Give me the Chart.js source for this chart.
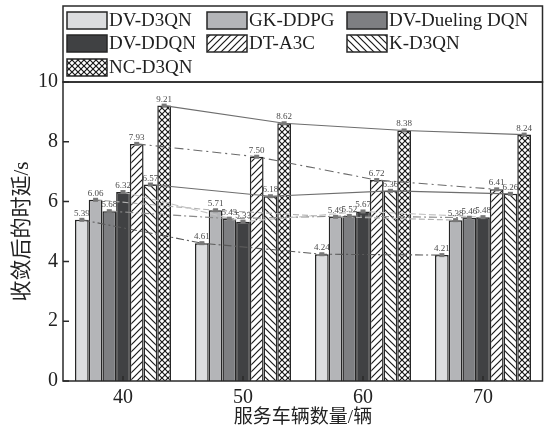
<!DOCTYPE html>
<html>
<head>
<meta charset="utf-8">
<script src="https://cdn.jsdelivr.net/npm/chart.js@4.4.1/dist/chart.umd.min.js"></script>
<style>
  html, body { margin: 0; padding: 0; background: #fff; }
  #c { display: block; }
</style>
</head>
<body>
<canvas id="c" width="544" height="430"></canvas>
<script>
// Vehicle counts on the x axis
const categories = ['40', '50', '60', '70'];

// Delay after convergence (s) for each method
const seriesNames = ['DV-D3QN', 'GK-DDPG', 'DV-Dueling DQN', 'DV-DDQN', 'DT-A3C', 'K-D3QN', 'NC-D3QN'];
const dvD3qn    = [5.39, 4.61, 4.24, 4.21];
const gkDdpg    = [6.06, 5.71, 5.49, 5.38];
const dvDueling = [5.68, 5.43, 5.52, 5.46];
const dvDdqn    = [6.32, 5.33, 5.67, 5.48];
const dtA3c     = [7.93, 7.50, 6.72, 6.41];
const kD3qn     = [6.57, 6.18, 6.36, 6.26];
const ncD3qn    = [9.21, 8.62, 8.38, 8.24];

const yTicks = [0, 2, 4, 6, 8, 10];

const SERIF = "'Liberation Serif', 'Times New Roman', serif";
const CJK = "'Liberation Serif', 'Noto Sans CJK SC', serif";

// Hatch fills
function hatch(kind) {
  const s = kind === 'cross' ? 6 : 7;
  const c = document.createElement('canvas');
  c.width = s; c.height = s;
  const g = c.getContext('2d');
  g.fillStyle = '#fff';
  g.fillRect(0, 0, s, s);
  g.strokeStyle = '#1a1a1a';
  g.lineWidth = 1.2;
  const fwd = () => {
    g.beginPath();
    g.moveTo(-1, s + 1); g.lineTo(s + 1, -1);
    g.moveTo(-1, 1); g.lineTo(1, -1);
    g.moveTo(s - 1, s + 1); g.lineTo(s + 1, s - 1);
    g.stroke();
  };
  const back = () => {
    g.beginPath();
    g.moveTo(-1, -1); g.lineTo(s + 1, s + 1);
    g.moveTo(s - 1, -1); g.lineTo(s + 1, 1);
    g.moveTo(-1, s - 1); g.lineTo(1, s + 1);
    g.stroke();
  };
  if (kind === 'fwd') fwd();
  if (kind === 'back') back();
  if (kind === 'cross') { fwd(); back(); }
  const ctx = document.getElementById('c').getContext('2d');
  return ctx.createPattern(c, 'repeat');
}

const fills = ['#dcdddf', '#b4b5b8', '#7e7f82', '#404143', hatch('fwd'), hatch('back'), hatch('cross')];
const seriesValues = [dvD3qn, gkDdpg, dvDueling, dvDdqn, dtA3c, kD3qn, ncD3qn];

// Trend line style joining each method's bar tops
const trendStyles = [
  { color: '#5a5a5a', dash: [8, 3, 2, 3] },
  { color: '#b0b0b0', dash: [6, 3] },
  { color: '#8a8a8a', dash: [8, 3, 2, 3] },
  { color: '#c4c4c4', dash: [7, 3] },
  { color: '#6a6a6a', dash: [9, 4, 2, 4] },
  { color: '#6e6e6e', dash: [] },
  { color: '#6e6e6e', dash: [] }
];

const datasets = seriesNames.map((name, i) => ({
  label: name,
  data: seriesValues[i],
  backgroundColor: fills[i],
  borderColor: '#262626',
  borderWidth: 1.5,
  categoryPercentage: 0.8,
  barPercentage: 1.0
}));

const overlay = {
  id: 'overlay',
  afterDatasetsDraw(chart) {
    const ctx = chart.ctx;
    // trend lines
    chart.data.datasets.forEach((ds, di) => {
      const meta = chart.getDatasetMeta(di);
      const st = trendStyles[di];
      ctx.save();
      ctx.strokeStyle = st.color;
      ctx.lineWidth = 1.1;
      ctx.setLineDash(st.dash);
      ctx.beginPath();
      meta.data.forEach((bar, i) => {
        if (i === 0) ctx.moveTo(bar.x, bar.y); else ctx.lineTo(bar.x, bar.y);
      });
      ctx.stroke();
      ctx.restore();
    });
    // top markers and value labels
    chart.data.datasets.forEach((ds, di) => {
      const meta = chart.getDatasetMeta(di);
      meta.data.forEach((bar, i) => {
        ctx.save();
        ctx.fillStyle = '#787878';
        ctx.fillRect(bar.x - 2.5, bar.y - 2, 5, 4);
        ctx.fillStyle = '#4a4a4a';
        ctx.font = '9px ' + SERIF;
        ctx.textAlign = 'center';
        ctx.textBaseline = 'alphabetic';
        ctx.fillText(ds.data[i].toFixed(2), bar.x, bar.y - 4);
        ctx.restore();
      });
    });
  },
  afterDraw(chart) {
    const ctx = chart.ctx;
    const a = chart.chartArea;
    const ys = chart.scales.y;
    const xs = chart.scales.x;
    ctx.save();
    ctx.strokeStyle = '#2a2a2a';
    ctx.lineWidth = 1.5;
    // plot frame
    ctx.strokeRect(a.left, a.top, a.right - a.left - 0.5, a.bottom - a.top);
    // inward ticks
    ctx.beginPath();
    yTicks.forEach(v => {
      const y = ys.getPixelForValue(v);
      ctx.moveTo(a.left, y); ctx.lineTo(a.left + 6, y);
    });
    categories.forEach((c, i) => {
      const x = xs.getPixelForValue(i);
      ctx.moveTo(x, a.bottom); ctx.lineTo(x, a.bottom - 5);
    });
    ctx.stroke();
    // legend box
    const top = 6;
    ctx.strokeRect(a.left, top, a.right - a.left - 0.5, a.top - top);
    const colX = [67, 207, 347];
    const rowY = [12, 35, 59];
    ctx.font = '19px ' + SERIF;
    ctx.textBaseline = 'middle';
    ctx.textAlign = 'left';
    chart.data.datasets.forEach((ds, i) => {
      const x = colX[i % 3], y = rowY[Math.floor(i / 3)];
      ctx.fillStyle = ds.backgroundColor;
      ctx.fillRect(x, y, 40, 17);
      ctx.lineWidth = 1.5;
      ctx.strokeStyle = '#262626';
      ctx.strokeRect(x, y, 40, 17);
      ctx.fillStyle = '#1e1e1e';
      ctx.fillText(ds.label, x + 42, y + 9.5);
    });
    ctx.restore();
  }
};

new Chart(document.getElementById('c'), {
  type: 'bar',
  data: { labels: categories, datasets },
  options: {
    responsive: false,
    animation: false,
    devicePixelRatio: 1,
    layout: { padding: { top: 82, right: 1, left: 0, bottom: 0 } },
    plugins: { legend: { display: false }, tooltip: { enabled: false } },
    scales: {
      x: {
        grid: { display: false, drawTicks: false },
        border: { display: false },
        ticks: { color: '#222', font: { family: SERIF, size: 20 }, padding: 5 },
        title: {
          display: true, text: '服务车辆数量/辆', color: '#222',
          font: { family: CJK, size: 19 }, padding: { top: 0, bottom: 1 }
        },
        afterFit(s) { s.height = 49; }
      },
      y: {
        min: 0, max: 10,
        afterBuildTicks(s) { s.ticks = yTicks.map(v => ({ value: v })); },
        grid: { display: false, drawTicks: false },
        border: { display: false },
        ticks: { color: '#222', font: { family: SERIF, size: 20 }, padding: 5 },
        title: {
          display: true, text: '收敛后的时延/s', color: '#222',
          font: { family: CJK, size: 21 }, padding: { top: 10, bottom: 0 }
        },
        afterFit(s) { s.width = 63; }
      }
    }
  },
  plugins: [overlay]
});
</script>
</body>
</html>
